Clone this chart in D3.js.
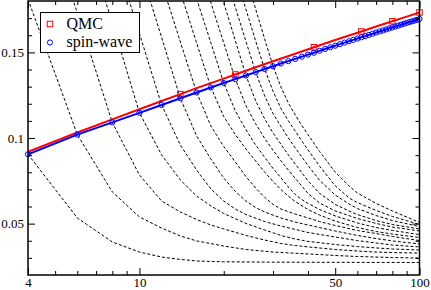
<!DOCTYPE html>
<html>
<head>
<meta charset="utf-8">
<script src="https://cdnjs.cloudflare.com/ajax/libs/d3/7.8.5/d3.min.js"></script>
<style>
  body { margin: 0; background: #ffffff; }
  svg { display: block; }
</style>
</head>
<body>
<script>
'use strict';

// spin-wave curve (blue circles), one point per even L
const swL = [4, 6, 8, 10, 12, 14, 16, 18, 20, 22, 24, 26, 28, 30, 32, 34, 36, 38, 40, 42, 44, 46, 48, 50,
  52, 54, 56, 58, 60, 62, 64, 66, 68, 70, 72, 74, 76, 78, 80, 82, 84, 86, 88, 90, 92, 94, 96, 98, 100];
const swValues = [0.0905, 0.1020, 0.1091, 0.1147, 0.1193, 0.1232, 0.1266, 0.1295, 0.1321, 0.1344, 0.1365,
  0.1385, 0.1403, 0.1419, 0.1435, 0.1449, 0.1462, 0.1475, 0.1487, 0.1498, 0.1509, 0.1520, 0.1530, 0.1539,
  0.1548, 0.1557, 0.1565, 0.1573, 0.1581, 0.1588, 0.1595, 0.1602, 0.1609, 0.1616, 0.1622, 0.1628, 0.1634,
  0.1640, 0.1646, 0.1651, 0.1656, 0.1662, 0.1667, 0.1672, 0.1677, 0.1681, 0.1686, 0.1690, 0.1695];

// QMC line (red) and QMC points (red squares)
const qmcLineL = [4, 6, 8, 10, 12, 14, 16, 20, 22, 26, 30, 36, 42, 50, 62, 70, 80, 90, 100];
const qmcLineValues = [0.0920, 0.1032, 0.1109, 0.1168, 0.1216, 0.1256, 0.1291, 0.1347, 0.1371, 0.1413,
  0.1448, 0.1492, 0.1530, 0.1572, 0.1622, 0.1651, 0.1682, 0.1709, 0.1733];
const qmcL = [14, 22, 42, 62, 80, 100];
const qmcValues = [0.1256, 0.1371, 0.1530, 0.1622, 0.1682, 0.1733];

// dashed curves, lowest first
const dashL0 = [4, 6, 8, 10, 12, 14, 16, 20, 30, 50, 100];
const dashV0 = [0.0905, 0.0533, 0.0393, 0.0334, 0.0305, 0.0291, 0.0282, 0.0277, 0.0275, 0.0274, 0.0273];
const dashL1 = [4, 6, 8, 10, 12, 14, 16, 20, 24, 30, 40, 50, 60, 80, 100];
const dashV1 = [0.1810, 0.1020, 0.0685, 0.0539, 0.0474, 0.0428, 0.0399, 0.0369, 0.0349, 0.0334, 0.0323,
  0.0314, 0.0308, 0.0302, 0.0299];
const dashL2 = [4, 6, 8, 10, 12, 14, 16, 18, 20, 24, 28, 32, 36, 40, 50, 60, 70, 80, 100];
const dashV2 = [0.2623, 0.1730, 0.1091, 0.0784, 0.0632, 0.0568, 0.0524, 0.0492, 0.0469, 0.0431, 0.0404,
  0.0384, 0.0372, 0.0364, 0.0349, 0.0340, 0.0334, 0.0331, 0.0328];
const dashL3 = [6, 8, 10, 12, 14, 16, 18, 20, 24, 28, 32, 36, 40, 50, 60, 70, 80, 100];
const dashV3 = [0.2308, 0.1674, 0.1147, 0.0901, 0.0755, 0.0661, 0.0603, 0.0559, 0.0501, 0.0463, 0.0431,
  0.0410, 0.0396, 0.0378, 0.0366, 0.0358, 0.0352, 0.0346];
const dashL4 = [8, 10, 12, 14, 16, 18, 20, 22, 24, 28, 32, 36, 40, 50, 60, 70, 80, 100];
const dashV4 = [0.2115, 0.1610, 0.1193, 0.0959, 0.0813, 0.0702, 0.0632, 0.0585, 0.0553, 0.0512, 0.0486,
  0.0466, 0.0448, 0.0422, 0.0401, 0.0387, 0.0375, 0.0364];
const dashL5 = [10, 12, 14, 16, 18, 20, 22, 24, 26, 28, 32, 36, 40, 50, 60, 70, 80, 100];
const dashV5 = [0.2004, 0.1587, 0.1232, 0.1012, 0.0877, 0.0766, 0.0688, 0.0632, 0.0594, 0.0568, 0.0533,
  0.0509, 0.0492, 0.0457, 0.0431, 0.0413, 0.0399, 0.0381];
const dashL6 = [12, 14, 16, 18, 20, 22, 24, 26, 28, 30, 32, 36, 40, 44, 50, 60, 70, 80, 100];
const dashV6 = [0.1905, 0.1561, 0.1266, 0.1070, 0.0950, 0.0860, 0.0775, 0.0708, 0.0653, 0.0612, 0.0585,
  0.0556, 0.0533, 0.0512, 0.0489, 0.0460, 0.0442, 0.0425, 0.0401];
const dashL7 = [14, 16, 18, 20, 22, 24, 26, 28, 30, 32, 34, 36, 40, 44, 50, 60, 70, 80, 100];
const dashV7 = [0.1853, 0.1555, 0.1295, 0.1125, 0.1020, 0.0936, 0.0866, 0.0801, 0.0746, 0.0699, 0.0661,
  0.0629, 0.0582, 0.0550, 0.0515, 0.0477, 0.0454, 0.0439, 0.0419];
const dashL8 = [16, 18, 20, 22, 24, 26, 28, 30, 32, 34, 36, 38, 40, 44, 50, 60, 70, 80, 100];
const dashV8 = [0.1813, 0.1555, 0.1321, 0.1158, 0.1048, 0.0959, 0.0887, 0.0822, 0.0768, 0.0714, 0.0670,
  0.0641, 0.0618, 0.0582, 0.0545, 0.0504, 0.0477, 0.0460, 0.0436];
const dashL9 = [16, 18, 20, 22, 24, 26, 28, 30, 32, 34, 36, 38, 40, 44, 50, 60, 70, 80, 100];
const dashV9 = [0.2050, 0.1789, 0.1555, 0.1344, 0.1189, 0.1083, 0.0998, 0.0928, 0.0867, 0.0813, 0.0764,
  0.0720, 0.0676, 0.0620, 0.0574, 0.0530, 0.0501, 0.0480, 0.0457];
const dashL10 = [18, 20, 22, 24, 26, 28, 30, 32, 34, 36, 38, 40, 44, 50, 56, 60, 70, 80, 100];
const dashV10 = [0.2041, 0.1791, 0.1568, 0.1365, 0.1217, 0.1112, 0.1029, 0.0964, 0.0902, 0.0848, 0.0797,
  0.0750, 0.0676, 0.0612, 0.0574, 0.0553, 0.0518, 0.0495, 0.0469];
const dashL11 = [20, 22, 24, 26, 28, 30, 32, 34, 36, 38, 40, 44, 50, 56, 60, 70, 80, 100];
const dashV11 = [0.1979, 0.1763, 0.1564, 0.1385, 0.1246, 0.1142, 0.1068, 0.1001, 0.0942, 0.0889, 0.0839,
  0.0753, 0.0667, 0.0615, 0.0588, 0.0547, 0.0518, 0.0483];
const dashL12 = [22, 24, 26, 28, 30, 32, 34, 36, 38, 40, 44, 50, 56, 60, 70, 80, 100];
const dashV12 = [0.1951, 0.1752, 0.1566, 0.1403, 0.1272, 0.1173, 0.1101, 0.1040, 0.0983, 0.0930, 0.0835,
  0.0721, 0.0650, 0.0623, 0.0577, 0.0542, 0.0495];
const dashL13 = [24, 26, 28, 30, 32, 34, 36, 38, 40, 44, 50, 56, 60, 70, 80, 100];
const dashV13 = [0.1944, 0.1753, 0.1578, 0.1419, 0.1298, 0.1205, 0.1135, 0.1073, 0.1019, 0.0921, 0.0801,
  0.0720, 0.0679, 0.0618, 0.0574, 0.0507];

// ticks and labels
const xMajor = [4, 10, 50, 100];
const xMinor = [5, 6, 7, 8, 9, 20, 30, 40, 60, 70, 80, 90];
const yMajor = [0.05, 0.1, 0.15];
const yMajorLabels = ['0.05', '0.1', '0.15'];
const yMinor = [0.03, 0.04, 0.06, 0.07, 0.08, 0.09, 0.11, 0.12, 0.13, 0.14, 0.16, 0.17];
const legendLabels = ['QMC', 'spin-wave'];

const serif = "'Liberation Serif', 'Times New Roman', serif";
let svg = '';

window.onload = function() {
  svg = d3.select('body')
    .append('svg')
    .attr('width', 431)
    .attr('height', 290);

  const scales = makeScales();
  drawCurves(scales);
  drawAxes(scales);
  drawLegend();
};

// log x, linear y, plot box from the picture
function makeScales() {
  const x = d3.scaleLog().domain([4, 100]).range([28, 419.5]);
  const y = d3.scaleLinear().domain([0.02, 0.18]).range([275, 1]);
  return { x: x, y: y };
}

function drawCurves(s) {
  svg.append('clipPath').attr('id', 'plotClip')
    .append('rect')
    .attr('x', 28).attr('y', 1)
    .attr('width', 391.5).attr('height', 274);

  const plot = svg.append('g').attr('clip-path', 'url(#plotClip)');
  const line = d3.line().x(d => s.x(d[0])).y(d => s.y(d[1]));

  const dashed = [
    [dashL0, dashV0], [dashL1, dashV1], [dashL2, dashV2], [dashL3, dashV3], [dashL4, dashV4],
    [dashL5, dashV5], [dashL6, dashV6], [dashL7, dashV7], [dashL8, dashV8], [dashL9, dashV9],
    [dashL10, dashV10], [dashL11, dashV11], [dashL12, dashV12], [dashL13, dashV13]
  ];

  dashed.forEach(function(c) {
    plot.append('path')
      .datum(d3.zip(c[0], c[1]))
      .attr('d', line)
      .attr('fill', 'none')
      .attr('stroke', '#000')
      .attr('stroke-width', 1)
      .attr('stroke-dasharray', '3,2');
  });

  // red QMC line
  plot.append('path')
    .datum(d3.zip(qmcLineL, qmcLineValues))
    .attr('d', line)
    .attr('fill', 'none')
    .attr('stroke', '#ff0000')
    .attr('stroke-width', 2);

  // blue spin-wave line
  plot.append('path')
    .datum(d3.zip(swL, swValues))
    .attr('d', line)
    .attr('fill', 'none')
    .attr('stroke', '#0000ff')
    .attr('stroke-width', 2);

  // QMC squares
  svg.selectAll('.qmc')
    .data(d3.zip(qmcL, qmcValues))
    .enter()
    .append('rect')
      .attr('class', 'qmc')
      .attr('x', d => s.x(d[0]) - 2.75)
      .attr('y', d => s.y(d[1]) - 2.75)
      .attr('width', 5.5)
      .attr('height', 5.5)
      .attr('fill', 'none')
      .attr('stroke', '#ff0000')
      .attr('stroke-width', 1);

  // spin-wave circles
  svg.selectAll('.sw')
    .data(d3.zip(swL, swValues))
    .enter()
    .append('circle')
      .attr('class', 'sw')
      .attr('cx', d => s.x(d[0]))
      .attr('cy', d => s.y(d[1]))
      .attr('r', 2.6)
      .attr('fill', 'none')
      .attr('stroke', '#0000ff')
      .attr('stroke-width', 1);
}

// ticks point inward on all four sides
function drawAxes(s) {
  const styleAxis = function(g) {
    g.select('.domain').remove();
    g.selectAll('line').attr('stroke', '#000');
    g.attr('font-family', serif).attr('font-size', 13);
    g.selectAll('text').attr('fill', '#000');
  };

  svg.append('g').attr('transform', 'translate(0,275)')
    .call(d3.axisBottom(s.x).tickValues(xMajor).tickFormat(d3.format('d'))
      .tickSizeInner(-7).tickSizeOuter(0).tickPadding(3))
    .call(styleAxis);
  svg.append('g').attr('transform', 'translate(0,275)')
    .call(d3.axisBottom(s.x).tickValues(xMinor).tickFormat('').tickSizeInner(-4).tickSizeOuter(0))
    .call(styleAxis);
  svg.append('g').attr('transform', 'translate(0,1)')
    .call(d3.axisTop(s.x).tickValues(xMajor).tickFormat('').tickSizeInner(-7).tickSizeOuter(0))
    .call(styleAxis);
  svg.append('g').attr('transform', 'translate(0,1)')
    .call(d3.axisTop(s.x).tickValues(xMinor).tickFormat('').tickSizeInner(-4).tickSizeOuter(0))
    .call(styleAxis);

  svg.append('g').attr('transform', 'translate(28,0)')
    .call(d3.axisLeft(s.y).tickValues(yMajor).tickFormat((d, i) => yMajorLabels[i])
      .tickSizeInner(-7).tickSizeOuter(0).tickPadding(4))
    .call(styleAxis);
  svg.append('g').attr('transform', 'translate(28,0)')
    .call(d3.axisLeft(s.y).tickValues(yMinor).tickFormat('').tickSizeInner(-4).tickSizeOuter(0))
    .call(styleAxis);
  svg.append('g').attr('transform', 'translate(419.5,0)')
    .call(d3.axisRight(s.y).tickValues(yMajor).tickFormat('').tickSizeInner(-7).tickSizeOuter(0))
    .call(styleAxis);
  svg.append('g').attr('transform', 'translate(419.5,0)')
    .call(d3.axisRight(s.y).tickValues(yMinor).tickFormat('').tickSizeInner(-4).tickSizeOuter(0))
    .call(styleAxis);

  // frame
  svg.append('rect')
    .attr('x', 28).attr('y', 1)
    .attr('width', 391.5).attr('height', 274)
    .attr('fill', 'none')
    .attr('stroke', '#000')
    .attr('stroke-width', 1.5);
}

function drawLegend() {
  const g = svg.append('g');
  g.append('rect')
    .attr('x', 40.5).attr('y', 12.5)
    .attr('width', 99).attr('height', 40)
    .attr('fill', '#fff')
    .attr('stroke', '#000')
    .attr('stroke-width', 1);

  g.append('rect')
    .attr('x', 47.25).attr('y', 21.25)
    .attr('width', 5.5).attr('height', 5.5)
    .attr('fill', 'none')
    .attr('stroke', '#ff0000');
  g.append('circle')
    .attr('cx', 50).attr('cy', 42.5).attr('r', 2.6)
    .attr('fill', 'none')
    .attr('stroke', '#0000ff');

  g.selectAll('.legtext')
    .data(legendLabels)
    .enter()
    .append('text')
      .attr('class', 'legtext')
      .attr('x', 66.5)
      .attr('y', (d, i) => i === 0 ? 28.5 : 47)
      .attr('font-family', serif)
      .attr('font-size', 16)
      .text(d => d);
}
</script>
</body>
</html>
